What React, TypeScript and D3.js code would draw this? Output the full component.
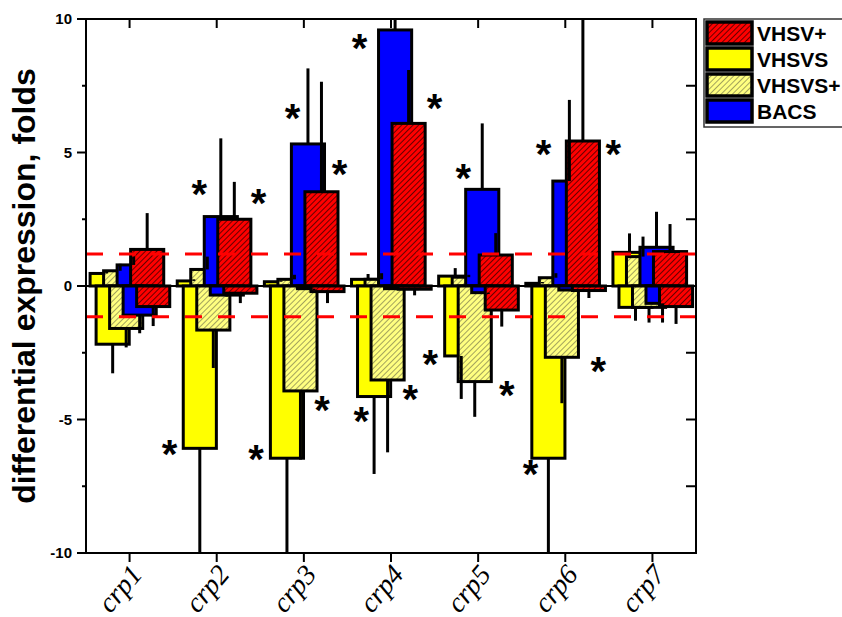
import React from 'react'
import * as d3 from 'd3'

const genes = ['crp1', 'crp2', 'crp3', 'crp4', 'crp5', 'crp6', 'crp7']
const seriesNames = ['VHSVS', 'VHSVS+', 'BACS', 'VHSV+']
const legendOrder = ['VHSV+', 'VHSVS', 'VHSVS+', 'BACS']

// up-regulated part of each bar and its error
const vhsvsUp = [0.47, 0.19, 0.16, 0.25, 0.37, 0.1, 1.26]
const vhsvsUpErr = [0.08, 0.06, 0.04, 0.2, 0.3, 0.05, 0.71]
const vhsvsPlusUp = [0.57, 0.62, 0.25, 0.25, 0.33, 0.31, 1.1]
const vhsvsPlusUpErr = [0.26, 0.48, 0.17, 0.23, 0.09, 0.17, 0.75]
const bacsUp = [0.79, 2.6, 5.32, 9.59, 3.62, 3.93, 1.45]
const bacsUpErr = [0.31, 2.93, 2.83, 1.6, 2.47, 3.04, 1.33]
const vhsvPlusUp = [1.37, 2.5, 3.53, 6.09, 1.16, 5.43, 1.29]
const vhsvPlusUpErr = [1.36, 1.4, 4.12, 2.0, 0.82, 5.6, 1.03]

// down-regulated part
const vhsvsDown = [-2.18, -6.08, -6.45, -4.14, -2.62, -6.45, -0.8]
const vhsvsDownErr = [1.09, 5.2, 5.0, 2.9, 1.61, 4.9, 0.5]
const vhsvsPlusDown = [-1.59, -1.65, -3.93, -3.52, -3.58, -2.67, -0.8]
const vhsvsPlusDownErr = [0.71, 1.42, 2.57, 2.71, 1.32, 1.72, 0.57]
const bacsDown = [-1.09, -0.34, -0.1, -0.1, -0.25, -0.15, -0.65]
const bacsDownErr = [0.68, 0.06, 0.05, 0.05, 0.05, 0.05, 0.72]
const vhsvPlusDown = [-0.77, -0.27, -0.21, -0.12, -0.9, -0.17, -0.77]
const vhsvPlusDownErr = [0.73, 0.37, 0.43, 0.23, 0.62, 0.28, 0.65]

const yTicks = [10, 5, 0, -5, -10]
const yMinor = [7.5, 2.5, -2.5, -7.5]
const cutoffs = [1.2, -1.15]

// significance marks: gene, shift from gene centre (in band widths), value
const starGenes = ['crp2', 'crp2', 'crp3', 'crp3', 'crp4', 'crp4', 'crp5', 'crp6', 'crp6',
  'crp2', 'crp3', 'crp3', 'crp4', 'crp4', 'crp5', 'crp5', 'crp6', 'crp6']
const starShift = [-0.2, 0.48, -0.13, 0.41, -0.36, 0.5, -0.17, -0.25, 0.55,
  -0.54, -0.55, 0.21, -0.34, 0.22, -0.55, 0.33, -0.4, 0.38]
const starValues = [3.67, 3.33, 6.53, 4.42, 9.14, 6.89, 4.27, 5.17, 5.17,
  -6.08, -6.27, -4.42, -4.83, -4.02, -2.71, -3.87, -6.83, -2.96]

const upVals = [vhsvsUp, vhsvsPlusUp, bacsUp, vhsvPlusUp]
const upErrs = [vhsvsUpErr, vhsvsPlusUpErr, bacsUpErr, vhsvPlusUpErr]
const downVals = [vhsvsDown, vhsvsPlusDown, bacsDown, vhsvPlusDown]
const downErrs = [vhsvsDownErr, vhsvsPlusDownErr, bacsDownErr, vhsvPlusDownErr]

const fills: Record<string, string> = {
  'VHSVS': '#ffff00',
  'VHSVS+': 'url(#hatchY)',
  'BACS': '#0000ff',
  'VHSV+': 'url(#hatchR)',
}

const W = 842, H = 617
const left = 86, right = 696, top = 19, bottom = 553
const sans = '"Liberation Sans", Arial, sans-serif'

export default function App() {
  const x = d3.scaleBand().domain(genes).range([left, right])
  const y = d3.scaleLinear().domain([-10, 10]).range([bottom, top])
  const bw = x.bandwidth()
  const barW = bw * 0.38
  const step = bw * 0.155
  const center = (g: string) => (x(g) as number) + bw / 2

  const bars: any[] = []
  const errs: any[] = []
  genes.forEach((g, gi) => {
    const c = center(g)
    const groups = [
      { start: c - bw * 0.453, vals: upVals, es: upErrs, sign: 1 },
      { start: c - bw * 0.384, vals: downVals, es: downErrs, sign: -1 },
    ]
    groups.forEach((grp, k) => {
      seriesNames.forEach((s, si) => {
        const v = grp.vals[si][gi]
        const x0 = grp.start + si * step
        const y0 = Math.min(y(0), y(v))
        const h = Math.abs(y(v) - y(0))
        bars.push(<rect key={g + k + s} x={x0} y={y0} width={barW} height={h}
          fill={fills[s]} stroke="#000" strokeWidth={3} />)
        const xc = x0 + barW / 2
        errs.push(<line key={'e' + g + k + s} x1={xc} x2={xc} y1={y(v)}
          y2={y(v + grp.sign * grp.es[si][gi])} stroke="#000" strokeWidth={3} />)
      })
    })
  })

  return (
    <svg width={W} height={H} style={{ position: 'absolute', left: 0, top: 0, background: '#fff' }}>
      <defs>
        <pattern id="hatchR" patternUnits="userSpaceOnUse" width={4} height={4} patternTransform="rotate(45)">
          <rect width={4} height={4} fill="#ff0000" />
          <line x1={0} y1={0} x2={0} y2={4} stroke="#000" strokeWidth={1.2} />
        </pattern>
        <pattern id="hatchY" patternUnits="userSpaceOnUse" width={4} height={4} patternTransform="rotate(45)">
          <rect width={4} height={4} fill="#ffff80" />
          <line x1={0} y1={0} x2={0} y2={4} stroke="#333" strokeWidth={0.9} />
        </pattern>
        <clipPath id="plot">
          <rect x={left} y={top} width={right - left} height={bottom - top} />
        </clipPath>
      </defs>

      <g clipPath="url(#plot)">
        <line x1={left} x2={right} y1={y(0)} y2={y(0)} stroke="#000" strokeWidth={2} />
        {bars}
        {errs}
        {cutoffs.map(v => (
          <line key={v} x1={left} x2={right} y1={y(v)} y2={y(v)} stroke="#ff0000"
            strokeWidth={3} strokeDasharray="17,16" />
        ))}
      </g>

      <rect x={left} y={top} width={right - left} height={bottom - top} fill="none" stroke="#000" strokeWidth={2} />

      {yTicks.map(t => (
        <g key={t}>
          <line x1={left - 9} x2={left} y1={y(t)} y2={y(t)} stroke="#000" strokeWidth={2} />
          <line x1={right - 10} x2={right} y1={y(t)} y2={y(t)} stroke="#000" strokeWidth={2} />
          <text x={72} y={y(t)} dy="0.35em" textAnchor="end" fontFamily={sans} fontWeight="bold" fontSize={15}>{t}</text>
        </g>
      ))}
      {yMinor.map(t => (
        <g key={t}>
          <line x1={left - 4} x2={left} y1={y(t)} y2={y(t)} stroke="#000" strokeWidth={2} />
          <line x1={right - 10} x2={right} y1={y(t)} y2={y(t)} stroke="#000" strokeWidth={2} />
        </g>
      ))}
      {genes.map(g => {
        const c = center(g)
        return (
          <g key={g}>
            <line x1={c} x2={c} y1={top} y2={top + 9} stroke="#000" strokeWidth={2} />
            <line x1={c} x2={c} y1={bottom} y2={bottom + 9} stroke="#000" strokeWidth={2} />
            <text transform={`translate(${c + 14},${bottom + 22}) rotate(-50)`} textAnchor="end"
              fontFamily='"Liberation Serif", "Times New Roman", serif' fontStyle="italic" fontSize={28}>{g}</text>
          </g>
        )
      })}

      {starGenes.map((g, i) => (
        <text key={'s' + i} x={center(g) + starShift[i] * bw} y={y(starValues[i])} dy="0.5em"
          textAnchor="middle" fontFamily={sans} fontWeight="bold" fontSize={40}>*</text>
      ))}

      <text transform={`translate(35,${(top + bottom) / 2}) rotate(-90)`} textAnchor="middle"
        fontFamily={sans} fontWeight="bold" fontSize={32}>differential expression, folds</text>

      <rect x={704} y={19} width={150} height={108} fill="#fff" stroke="#333" strokeWidth={1.5} />
      {legendOrder.map((s, i) => (
        <g key={s}>
          <rect x={707} y={22 + i * 26} width={45} height={22} fill={fills[s]} stroke="#000" strokeWidth={3.5} />
          <text x={757} y={41 + i * 26} fontFamily={sans} fontWeight="bold" fontSize={21}>{s}</text>
        </g>
      ))}
    </svg>
  )
}
